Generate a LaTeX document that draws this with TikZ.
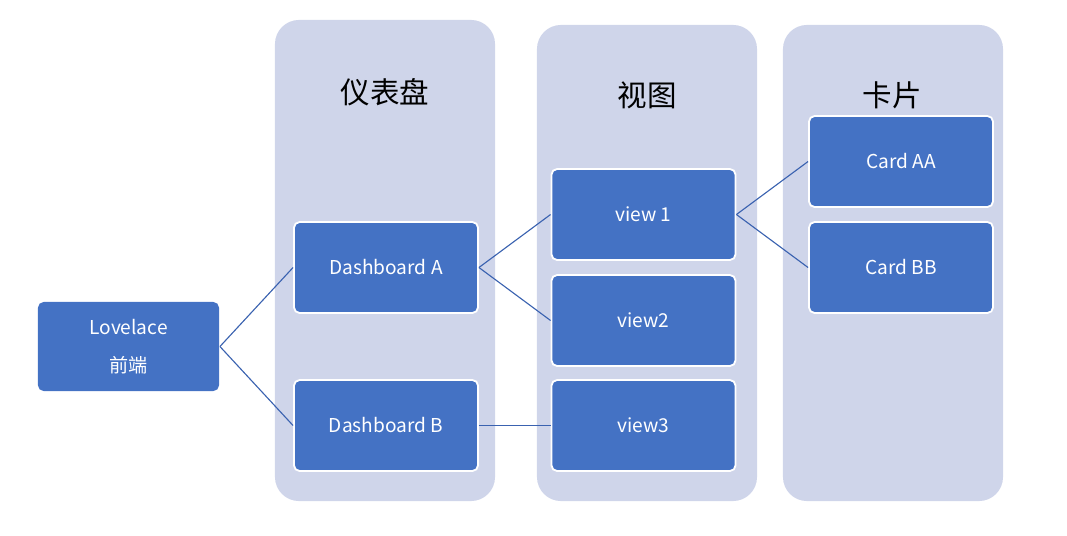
\documentclass[tikz,border=0pt]{standalone}
\usepackage{fontspec}
\setmainfont{Noto Sans CJK SC}
\usepackage{xcolor}
\usepackage{tikz}
\usetikzlibrary{positioning}
\definecolor{boxblue}{HTML}{4472C4}
\definecolor{colbg}{HTML}{CFD5EA}
\definecolor{linkblue}{HTML}{3A62B0}
\tikzset{
  column/.style={rectangle, fill=colbg, rounded corners=0.6cm,
                 minimum width=5.5cm, minimum height=12cm},
  item/.style={rectangle, draw=white, fill=boxblue, rounded corners=4pt,
               minimum width=4.6cm, minimum height=2.275cm, text=white,
               font=\fontsize{13.6}{16}\selectfont, line width=1.3pt,
               anchor=center},
  title/.style={font=\fontsize{21}{25}\selectfont, text=black},
  link/.style={draw=linkblue, line width=0.8pt},
}

\begin{document}
\begin{tikzpicture}[x=0.025cm, y=-0.025cm,
  front/.style={item, draw=none, minimum width=4.525cm, minimum height=2.225cm,
                align=center, font=\fontsize{13.6}{27}\selectfont}
]
  \useasboundingbox (0,0) rectangle (1067,535);

  % background columns
  \node[column, minimum height=12.025cm] (colDash) at (385,260.5) {};
  \node[column, minimum height=11.9cm] (colView) at (647,263) {};
  \node[column, minimum height=11.9cm] (colCard) at (893,263) {};

  \node[title] (tDash) at (385,92) {仪表盘};
  \node[title] (tView) at (647,95) {视图};
  \node[title] (tCard) at (892,95) {卡片};

  % boxes
  \node[front] (lovelace) at (128.5,346.5) {Lovelace\\前端};

  \node[item] (dashA) at (386,267.5) {Dashboard A};
  \node[item] (dashB) at (386,425.5) {Dashboard B};

  \node[item] (view1) at (643.5,214.5) {view 1};
  \node[item] (view2) at (643.5,320.5) {view2};
  \node[item] (view3) at (643.5,425.5) {view3};

  \node[item] (cardAA) at (901,161.5) {Card AA};
  \node[item] (cardBB) at (901,267.5) {Card BB};

  % links
  \draw[link] (lovelace.east) -- (dashA.west);
  \draw[link] (lovelace.east) -- (dashB.west);
  \draw[link] (dashA.east) -- (view1.west);
  \draw[link] (dashA.east) -- (view2.west);
  \draw[link] (dashB.east) -- (view3.west);
  \draw[link] (view1.east) -- (cardAA.west);
  \draw[link] (view1.east) -- (cardBB.west);
\end{tikzpicture}
\end{document}
